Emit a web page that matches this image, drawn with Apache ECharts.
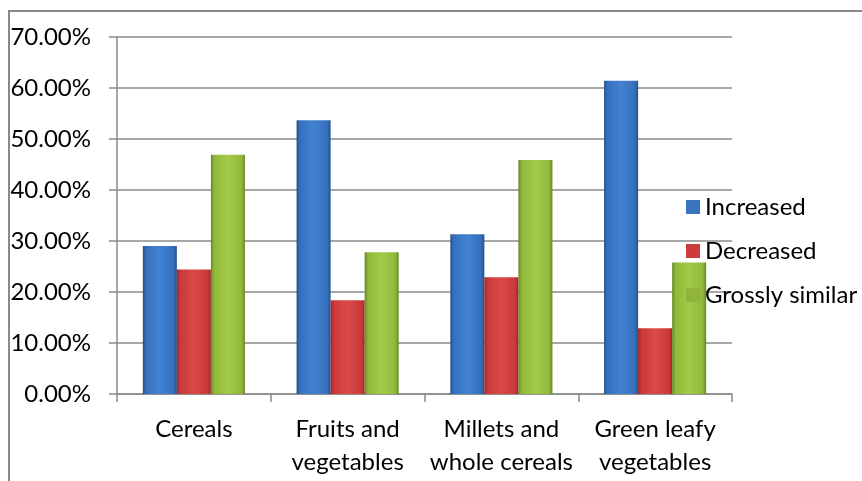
<!DOCTYPE html>
<html>
<head>
<meta charset="utf-8">
<title>Food consumption change</title>
<script src="https://cdn.jsdelivr.net/npm/echarts@6/dist/echarts.min.js"></script>
<style>
  html, body { margin: 0; padding: 0; background: #ffffff; }
  #chart { width: 862px; height: 481px; }
</style>
</head>
<body>
<div id="chart"></div>
<script>
// Food groups on the category axis
const categories = ['Cereals', 'Fruits and\nvegetables', 'Millets and\nwhole cereals', 'Green leafy\nvegetables'];

// Share of respondents (percent) per change in consumption
const increased = [29.0, 53.7, 31.3, 61.4];
const decreased = [24.4, 18.4, 22.9, 12.9];
const grosslySimilar = [46.9, 27.8, 45.9, 25.8];

const seriesNames = ['Increased', 'Decreased', 'Grossly similar'];

// Value axis range
const yMin = 0;
const yMax = 70;
const yStep = 10;

const FONT = 'Lato';
const GRID_GREY = '#8a8a8a';
const TEXT = '#000000';

// Bevel-like horizontal shading: dark edges, light centre
function shade(edge, mid, light) {
  return new echarts.graphic.LinearGradient(0, 0, 1, 0, [
    { offset: 0, color: edge },
    { offset: 0.1, color: mid },
    { offset: 0.5, color: light },
    { offset: 0.9, color: mid },
    { offset: 1, color: edge }
  ]);
}

const palette = [
  shade('#25508a', '#3670bd', '#4282d2'),
  shade('#9c2626', '#cb3a3a', '#da4a47'),
  shade('#688826', '#90b83a', '#a3cb47')
];
const legendColors = ['#3a74c0', '#cc3c3c', '#90b43c'];

const chart = echarts.init(document.getElementById('chart'), null, { renderer: 'canvas' });

const values = [increased, decreased, grosslySimilar];

chart.setOption({
  animation: false,
  textStyle: { fontFamily: FONT },
  graphic: [{
    type: 'rect',
    shape: { x: 9, y: 11, width: 900, height: 520 },
    style: { fill: 'none', stroke: GRID_GREY, lineWidth: 2 },
    silent: true
  }],
  grid: { left: 117, right: 130, top: 37, bottom: 87, containLabel: false },
  legend: {
    orient: 'vertical',
    left: 681,
    top: 189,
    itemWidth: 14,
    itemHeight: 14,
    itemGap: 18,
    icon: 'rect',
    textStyle: { fontFamily: FONT, fontSize: 24, lineHeight: 26, color: TEXT },
    data: seriesNames.map((name, i) => ({ name: name, itemStyle: { color: legendColors[i] } }))
  },
  xAxis: {
    type: 'category',
    data: categories,
    axisLine: { show: true, lineStyle: { color: GRID_GREY, width: 1.5 } },
    axisTick: { show: true, length: 8, alignWithLabel: false, lineStyle: { color: GRID_GREY, width: 1.5 } },
    axisLabel: {
      margin: 19,
      fontFamily: FONT,
      fontSize: 24,
      lineHeight: 33,
      color: TEXT,
      interval: 0
    },
    splitLine: { show: false }
  },
  yAxis: {
    type: 'value',
    min: yMin,
    max: yMax,
    interval: yStep,
    axisLine: { show: true, lineStyle: { color: GRID_GREY, width: 1.5 } },
    axisTick: { show: true, length: 8, lineStyle: { color: GRID_GREY, width: 1.5 } },
    axisLabel: {
      margin: 26,
      fontFamily: FONT,
      fontSize: 24,
      color: TEXT,
      formatter: v => v.toFixed(2) + '%'
    },
    splitLine: { show: true, lineStyle: { color: GRID_GREY, width: 1.5 } }
  },
  series: seriesNames.map((name, i) => ({
    name: name,
    type: 'bar',
    data: values[i],
    barGap: '0%',
    barCategoryGap: '33.6%',
    itemStyle: { color: palette[i] }
  }))
});
</script>
</body>
</html>
